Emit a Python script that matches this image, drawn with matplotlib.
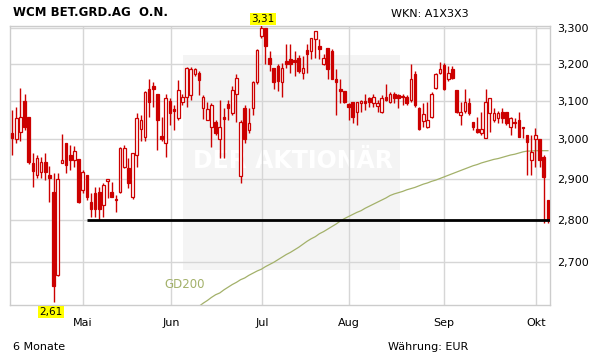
import matplotlib
matplotlib.use("Agg")
import matplotlib.pyplot as plt
from matplotlib.ticker import FixedLocator, FuncFormatter, NullLocator, NullFormatter
from matplotlib.patches import Rectangle

# daily candles, oldest first (EUR)
opens = [3.017, 3.000, 3.018, 3.100, 3.058, 2.940, 2.910, 2.918, 2.942, 2.910,
         2.868, 2.670, 2.940, 2.990, 2.960, 2.947, 2.950, 2.873, 2.910, 2.842,
         2.866, 2.868, 2.837, 2.896, 2.868, 2.851, 2.868, 2.930, 2.927, 2.856,
         2.960, 3.027, 3.006, 3.133, 3.141, 3.118, 3.008, 2.990, 3.100, 3.078,
         3.055, 3.097, 3.112, 3.115, 3.173, 3.176, 3.081, 3.050, 3.032, 3.045,
         3.000, 3.058, 3.092, 3.068, 3.120, 2.907, 3.081, 3.024, 3.081, 3.150,
         3.278, 3.300, 3.216, 3.190, 3.195, 3.150, 3.208, 3.213, 3.210, 3.216,
         3.176, 3.238, 3.236, 3.270, 3.250, 3.200, 3.244, 3.236, 3.160, 3.130,
         3.128, 3.092, 3.097, 3.071, 3.096, 3.100, 3.107, 3.094, 3.087, 3.071,
         3.110, 3.097, 3.118, 3.115, 3.112, 3.110, 3.102, 3.173, 3.081, 3.048,
         3.032, 3.058, 3.136, 3.176, 3.197, 3.160, 3.187, 3.130, 3.063, 3.073,
         3.094, 3.045, 3.027, 3.016, 3.003, 3.068, 3.050, 3.055, 3.071, 3.071,
         3.032, 3.045, 3.050, 3.032, 3.011, 2.947, 3.000, 3.000, 2.955, 2.849]
highs = [3.076, 3.084, 3.136, 3.120, 3.058, 2.965, 2.960, 2.955, 2.965, 2.932,
         2.915, 2.915, 3.014, 2.990, 2.985, 2.982, 2.950, 2.922, 2.910, 2.866,
         2.880, 2.880, 2.890, 2.900, 2.892, 2.861, 2.980, 2.985, 2.952, 2.965,
         3.068, 3.063, 3.128, 3.160, 3.150, 3.118, 3.058, 3.120, 3.107, 3.089,
         3.157, 3.118, 3.192, 3.192, 3.190, 3.181, 3.115, 3.097, 3.094, 3.050,
         3.102, 3.081, 3.102, 3.141, 3.173, 3.050, 3.089, 3.081, 3.154, 3.241,
         3.310, 3.300, 3.236, 3.190, 3.200, 3.203, 3.255, 3.255, 3.236, 3.225,
         3.222, 3.255, 3.272, 3.292, 3.270, 3.228, 3.244, 3.241, 3.187, 3.160,
         3.128, 3.094, 3.097, 3.097, 3.102, 3.120, 3.110, 3.120, 3.102, 3.115,
         3.147, 3.123, 3.123, 3.120, 3.120, 3.115, 3.200, 3.181, 3.084, 3.094,
         3.097, 3.123, 3.176, 3.205, 3.203, 3.195, 3.195, 3.130, 3.097, 3.133,
         3.107, 3.045, 3.058, 3.071, 3.133, 3.107, 3.081, 3.073, 3.081, 3.071,
         3.058, 3.055, 3.071, 3.032, 3.011, 3.011, 3.029, 3.000, 2.960, 2.849]
lows = [2.960, 2.990, 2.997, 3.024, 2.937, 2.880, 2.903, 2.903, 2.898, 2.842,
        2.610, 2.668, 2.940, 2.915, 2.922, 2.930, 2.840, 2.866, 2.849, 2.808,
        2.808, 2.800, 2.808, 2.852, 2.856, 2.820, 2.866, 2.927, 2.878, 2.850,
        2.930, 2.997, 2.997, 3.058, 3.084, 2.972, 2.997, 2.955, 3.037, 3.024,
        3.050, 3.089, 3.084, 3.102, 3.168, 3.115, 3.053, 3.050, 2.980, 3.011,
        2.952, 2.952, 3.050, 3.063, 3.045, 2.890, 2.990, 3.016, 3.063, 3.147,
        3.272, 3.200, 3.181, 3.133, 3.128, 3.110, 3.190, 3.176, 3.168, 3.176,
        3.160, 3.176, 3.213, 3.216, 3.213, 3.197, 3.160, 3.160, 3.063, 3.094,
        3.094, 3.050, 3.042, 3.037, 3.071, 3.076, 3.084, 3.084, 3.071, 3.068,
        3.100, 3.094, 3.094, 3.081, 3.089, 3.089, 3.097, 3.084, 3.024, 3.032,
        3.029, 3.055, 3.133, 3.173, 3.130, 3.154, 3.160, 3.068, 3.037, 3.068,
        3.063, 3.024, 3.016, 3.011, 3.003, 3.019, 3.045, 3.042, 3.042, 3.037,
        3.011, 3.029, 3.005, 3.003, 2.910, 2.910, 2.930, 2.930, 2.793, 2.793]
closes = [3.004, 3.055, 3.058, 3.032, 2.942, 2.920, 2.952, 2.942, 2.918, 2.903,
          2.645, 2.900, 2.947, 2.935, 2.947, 2.970, 2.842, 2.918, 2.856, 2.827,
          2.825, 2.827, 2.885, 2.899, 2.856, 2.847, 2.977, 2.977, 2.890, 2.965,
          3.055, 3.050, 3.123, 3.097, 3.133, 3.050, 3.000, 3.107, 3.068, 3.075,
          3.130, 3.112, 3.190, 3.187, 3.187, 3.157, 3.112, 3.078, 3.089, 3.016,
          3.032, 3.053, 3.081, 3.130, 3.162, 3.045, 3.000, 3.042, 3.150, 3.238,
          3.300, 3.250, 3.200, 3.152, 3.154, 3.190, 3.200, 3.200, 3.205, 3.181,
          3.190, 3.228, 3.272, 3.292, 3.241, 3.216, 3.187, 3.160, 3.150, 3.128,
          3.097, 3.084, 3.058, 3.097, 3.097, 3.094, 3.097, 3.110, 3.094, 3.107,
          3.102, 3.120, 3.107, 3.107, 3.110, 3.094, 3.160, 3.089, 3.027, 3.066,
          3.050, 3.120, 3.173, 3.187, 3.133, 3.176, 3.162, 3.071, 3.071, 3.097,
          3.068, 3.032, 3.019, 3.027, 3.097, 3.107, 3.068, 3.068, 3.055, 3.042,
          3.055, 3.042, 3.006, 3.029, 2.992, 2.967, 3.011, 2.947, 2.905, 2.800]

# 200-day average, known from candle 44 on
gd200_start = 44
gd200 = [2.595, 2.600, 2.607, 2.613, 2.620, 2.626, 2.630, 2.637, 2.643, 2.649,
         2.654, 2.660, 2.664, 2.670, 2.675, 2.680, 2.684, 2.690, 2.695, 2.700,
         2.706, 2.712, 2.718, 2.723, 2.729, 2.735, 2.742, 2.749, 2.755, 2.760,
         2.767, 2.772, 2.778, 2.784, 2.790, 2.797, 2.803, 2.808, 2.813, 2.818,
         2.822, 2.828, 2.833, 2.838, 2.843, 2.848, 2.853, 2.859, 2.863, 2.866,
         2.869, 2.873, 2.876, 2.879, 2.883, 2.887, 2.890, 2.894, 2.897, 2.901,
         2.905, 2.909, 2.913, 2.917, 2.921, 2.925, 2.929, 2.933, 2.936, 2.940,
         2.943, 2.946, 2.949, 2.951, 2.954, 2.957, 2.960, 2.962, 2.965, 2.968,
         2.970, 2.970, 2.971, 2.971, 2.971, 2.971]

support_level = 2.80
support_from = 18

month_labels = ["Mai", "Jun", "Jul", "Aug", "Sep", "Okt"]
month_pos = [17.1, 38.3, 60.2, 81.1, 104.0, 126.1]
price_ticks = [2.7, 2.8, 2.9, 3.0, 3.1, 3.2, 3.3]

RED = "#cc0000"
W, H = 611, 364

fig = plt.figure(figsize=(W / 100, H / 100), dpi=100)
ax = fig.add_axes([10 / W, 1 - 305 / H, 540 / W, 279 / H])
ax.set_yscale("log")
ax.set_xlim(-0.5, len(opens) - 0.5)
ax.set_ylim(2.603, 3.306)

# watermark box
ax.add_patch(Rectangle((41.2, 2.683), 52.3, 3.224 - 2.683, facecolor="#f4f4f4",
                       edgecolor="none", zorder=0))
ax.text(67.5, 2.945, "DER AKTIONÄR", color="white", fontsize=17, fontweight="bold",
        ha="center", va="center", zorder=0.5)

ax.grid(True, color="#d6d6d6", linewidth=1, zorder=1)
ax.set_axisbelow(True)

# moving average
ax.plot(range(gd200_start, gd200_start + len(gd200)), gd200, color="#a3b16a",
        linewidth=0.9, zorder=2)
ax.text(41.6, 2.650, "GD200", color="#a3b16a", fontsize=8.5, ha="center",
        va="center")

# support line
ax.hlines(support_level, support_from, len(opens) - 0.5, color="black",
          linewidth=2, zorder=5)

for i, (o, h, l, c) in enumerate(zip(opens, highs, lows, closes)):
    ax.vlines(i, l, h, color=RED, linewidth=1, zorder=3)
    lo, hi = min(o, c), max(o, c)
    if hi - lo < 0.004:
        hi = lo + 0.004
    fc = RED if c < o else "white"
    ax.bar(i, hi - lo, bottom=lo, width=0.62, facecolor=fc, edgecolor=RED,
           linewidth=0.9, zorder=4)

# high / low markers
hi_i = highs.index(max(highs))
lo_i = lows.index(min(lows))
box = dict(boxstyle="square,pad=0.12", facecolor="#ffff00", edgecolor="none")
ax.annotate(f"{max(highs):.2f}".replace(".", ","), (hi_i, 3.306),
            xytext=(1, 1.5), textcoords="offset points", ha="center",
            va="bottom", fontsize=7.5, bbox=box, annotation_clip=False)
ax.annotate(f"{min(lows):.2f}".replace(".", ","), (lo_i, 2.603),
            xytext=(-2, -1.5), textcoords="offset points", ha="center",
            va="top", fontsize=7.5, bbox=box, annotation_clip=False)

ax.yaxis.tick_right()
ax.yaxis.set_major_locator(FixedLocator(price_ticks))
ax.yaxis.set_minor_locator(NullLocator())
ax.yaxis.set_minor_formatter(NullFormatter())
ax.yaxis.set_major_formatter(FuncFormatter(lambda v, p: f"{v:.3f}".replace(".", ",")))
ax.set_xticks(month_pos)
ax.set_xticklabels(month_labels)
ax.tick_params(axis="both", length=0, labelsize=8)
ax.tick_params(axis="y", pad=5)
ax.tick_params(axis="x", pad=9)
for s in ax.spines.values():
    s.set_color("#cccccc")
    s.set_linewidth(1)

fig.text(13 / W, 1 - 13 / H, "WCM BET.GRD.AG  O.N.", fontsize=8.5,
         fontweight="bold", va="center", ha="left")
fig.text(430 / W, 1 - 14 / H, "WKN: A1X3X3", fontsize=8, va="center", ha="center")
fig.text(13 / W, 1 - 347 / H, "6 Monate", fontsize=8, va="center", ha="left")
fig.text(428 / W, 1 - 347 / H, "Währung: EUR", fontsize=8, va="center", ha="center")

fig.savefig("out.png", dpi=100)
